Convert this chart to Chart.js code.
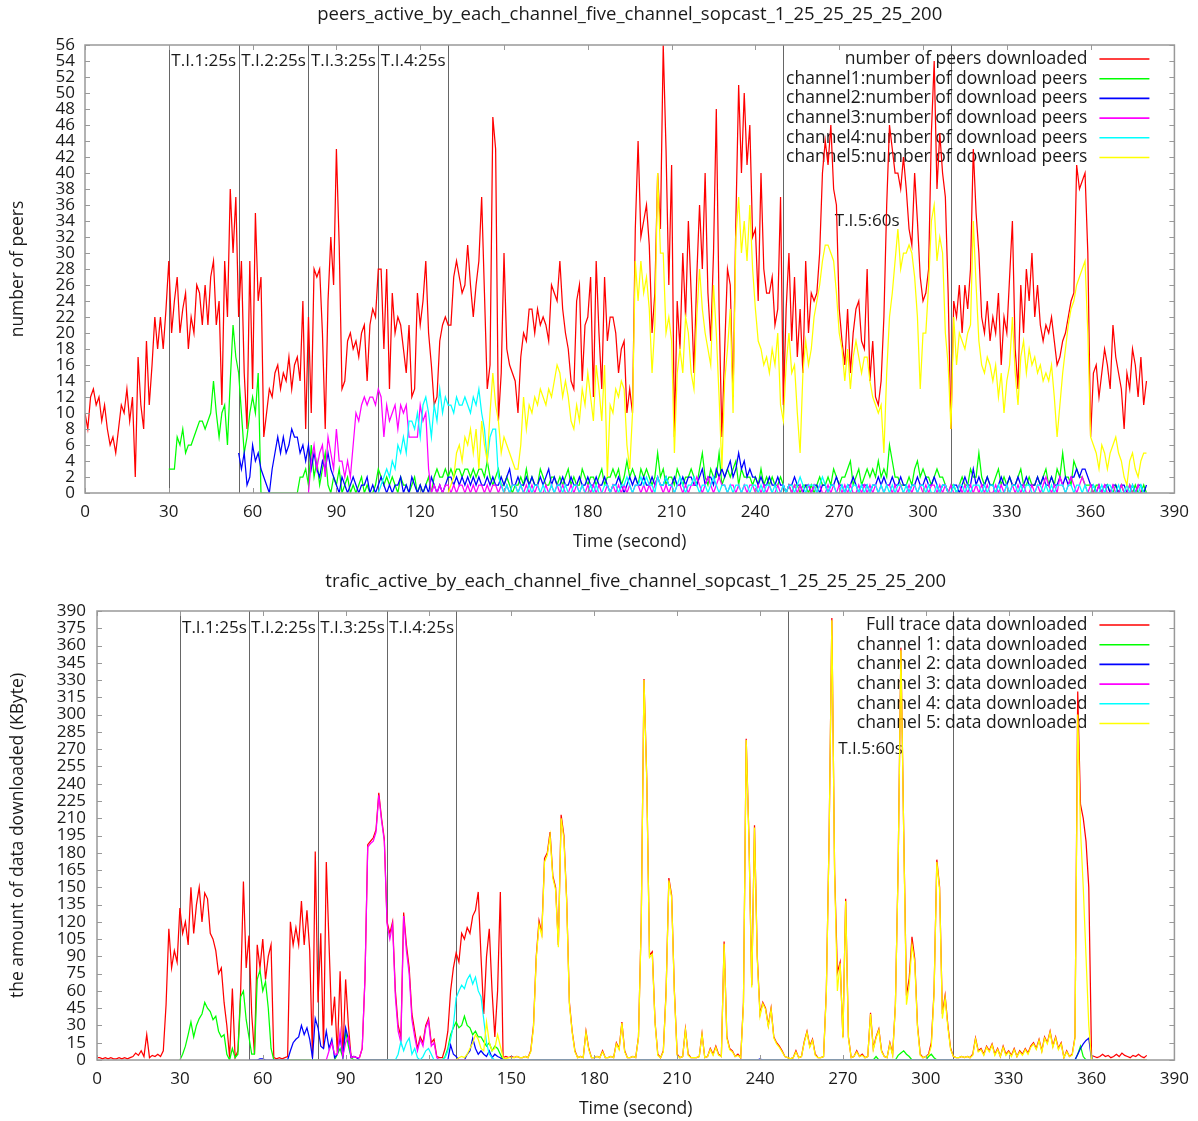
<!DOCTYPE html>
<html>
<head>
<meta charset="utf-8">
<title>sopcast five channel trace</title>
<script src="https://cdn.jsdelivr.net/npm/chart.js@4.4.1/dist/chart.umd.min.js"></script>
<style>
  body { margin: 0; background: #fff; }
  canvas { display: block; }
</style>
</head>
<body>
<canvas id="peers-chart" width="1198" height="560"></canvas>
<canvas id="traffic-chart" width="1198" height="561"></canvas>
<script>
const FONT = "'Open Sans', 'DejaVu Sans', sans-serif";
const TEXT = "#1a1a1a";
const COLORS = ["#ff0000", "#00ff00", "#0000ff", "#ff00ff", "#00ffff", "#ffff00"];

const timeTicks = [0, 30, 60, 90, 120, 150, 180, 210, 240, 270, 300, 330, 360, 390];
const peerTicks = [0, 2, 4, 6, 8, 10, 12, 14, 16, 18, 20, 22, 24, 26, 28, 30, 32, 34, 36, 38, 40, 42, 44, 46, 48, 50, 52, 54, 56];
const trafficTicks = [0, 15, 30, 45, 60, 75, 90, 105, 120, 135, 150, 165, 180, 195, 210, 225, 240, 255, 270, 285, 300, 315, 330, 345, 360, 375, 390];

// channel switching intervals
const intervalBounds = [30, 55, 80, 105, 130, 250, 310];
const intervalNames = ["T.I.1:25s", "T.I.2:25s", "T.I.3:25s", "T.I.4:25s", "T.I.5:60s"];
const intervalCenters = [42.5, 67.5, 92.5, 117.5, 280];
const peerLabelLevels = [54, 54, 54, 54, 34];
const trafficLabelLevels = [375, 375, 375, 375, 270];

const peerSeriesNames = [
  "number of peers downloaded",
  "channel1:number of download peers",
  "channel2:number of download peers",
  "channel3:number of download peers",
  "channel4:number of download peers",
  "channel5:number of download peers",
];
const trafficSeriesNames = [
  "Full trace data downloaded",
  "channel 1: data downloaded",
  "channel 2: data downloaded",
  "channel 3: data downloaded",
  "channel 4: data downloaded",
  "channel 5: data downloaded",
];

// one sample per second, each series starting at its own second
const seriesStart = [0, 30, 55, 80, 105, 130];

const peersTotal = [
  10, 8, 12, 13, 11, 12, 9, 11, 8, 6,
  7, 5, 8, 11, 10, 13, 9, 12, 2, 17,
  11, 8, 19, 11, 16, 22, 18, 22, 18, 23,
  29, 20, 24, 27, 20, 23, 25, 18, 22, 20,
  26, 25, 21, 26, 21, 27, 29, 21, 24, 11,
  29, 22, 38, 30, 37, 22, 29, 15, 8, 29,
  13, 35, 24, 27, 7, 10, 13, 12, 15, 16,
  13, 15, 14, 17, 13, 16, 17, 14, 24, 8,
  22, 10, 28, 27, 28, 20, 8, 24, 32, 26,
  43, 31, 13, 14, 19, 20, 18, 19, 17, 20,
  21, 14, 21, 23, 22, 28, 28, 18, 28, 13,
  25, 20, 22, 21, 18, 15, 21, 12, 13, 25,
  21, 24, 29, 20, 16, 11, 12, 19, 21, 22,
  21, 21, 27, 29, 27, 25, 26, 31, 26, 22,
  26, 29, 37, 25, 13, 16, 47, 43, 9, 15,
  30, 18, 16, 15, 14, 10, 17, 20, 19, 23,
  23, 20, 23, 21, 22, 21, 19, 26, 25, 24,
  29, 23, 20, 18, 14, 13, 24, 26, 14, 21,
  22, 27, 12, 29, 20, 13, 27, 19, 22, 22,
  20, 15, 18, 19, 10, 13, 10, 33, 44, 32,
  34, 36, 31, 20, 25, 40, 33, 56, 43, 26,
  41, 7, 24, 18, 30, 22, 34, 25, 15, 27,
  36, 28, 40, 25, 19, 30, 48, 23, 7, 18,
  28, 26, 12, 34, 51, 40, 50, 41, 46, 32,
  33, 24, 40, 28, 25, 25, 27, 21, 23, 37,
  11, 23, 30, 19, 27, 17, 23, 15, 29, 20,
  25, 24, 25, 30, 40, 44, 41, 46, 38, 36,
  23, 19, 16, 23, 15, 20, 23, 24, 19, 18,
  28, 14, 19, 12, 11, 14, 22, 36, 46, 43,
  40, 40, 38, 42, 38, 33, 31, 40, 34, 27,
  24, 25, 28, 45, 54, 38, 45, 40, 37, 25,
  8, 24, 22, 26, 20, 26, 23, 28, 43, 35,
  30, 22, 20, 24, 19, 22, 20, 25, 16, 22,
  20, 27, 34, 18, 13, 26, 20, 28, 24, 30,
  22, 26, 21, 19, 21, 20, 22, 19, 16, 17,
  19, 20, 22, 24, 25, 41, 38, 39, 40, 30,
  7, 15, 16, 12, 15, 18, 16, 13, 21, 17,
  15, 13, 8, 15, 13, 18, 16, 12, 17, 11, 14,
];

const peersCh1 = [
  3, 3, 3, 7, 6, 8, 5, 6, 6, 7,
  8, 9, 9, 8, 9, 10, 14, 10, 7, 10,
  11, 6, 14, 21, 17, 15, 10, 5, 7, 10,
  12, 10, 15, 0, 0, 0, 0, 0, 0, 0,
  0, 0, 0, 0, 0, 0, 0, 2, 2, 3,
  1, 6, 2, 4, 1, 3, 5, 1, 0, 2,
  1, 3, 0, 1, 2, 0, 1, 0, 1, 2,
  0, 1, 0, 0, 1, 3, 2, 1, 2, 1,
  2, 1, 0, 2, 1, 1, 0, 1, 2, 0,
  1, 0, 1, 2, 0, 2, 3, 2, 2, 3,
  2, 3, 2, 3, 3, 2, 3, 3, 2, 3,
  2, 3, 3, 2, 4, 2, 1, 2, 3, 1,
  1, 2, 1, 0, 1, 1, 2, 1, 3, 1,
  2, 1, 1, 3, 2, 1, 1, 2, 2, 1,
  2, 1, 2, 3, 1, 2, 1, 1, 3, 2,
  1, 2, 2, 1, 2, 3, 1, 2, 2, 3,
  2, 3, 1, 2, 4, 2, 3, 2, 1, 3,
  2, 3, 2, 1, 2, 5, 2, 3, 1, 2,
  2, 1, 3, 2, 1, 2, 2, 3, 2, 1,
  3, 5, 2, 1, 3, 2, 2, 5, 1, 2,
  3, 2, 3, 4, 1, 3, 2, 2, 2, 1,
  2, 1, 3, 1, 2, 1, 2, 1, 1, 2,
  1, 0, 1, 0, 1, 1, 0, 1, 1, 0,
  1, 0, 1, 2, 1, 1, 2, 1, 3, 2,
  1, 2, 2, 3, 4, 1, 2, 3, 1, 2,
  3, 2, 3, 2, 4, 2, 3, 2, 6, 4,
  2, 2, 1, 1, 1, 2, 1, 3, 4, 2,
  3, 2, 2, 1, 2, 3, 2, 2, 1, 0,
  1, 1, 0, 1, 2, 1, 1, 3, 2, 2,
  5, 2, 1, 2, 1, 1, 2, 3, 1, 2,
  1, 2, 1, 1, 2, 3, 1, 1, 2, 1,
  1, 2, 1, 2, 3, 1, 2, 1, 3, 2,
  5, 2, 2, 1, 4, 3, 2, 2, 1, 1,
  1, 0, 1, 1, 0, 0, 1, 0, 0, 1,
  0, 1, 0, 0, 1, 0, 1, 0, 0, 1, 0,
];

const peersCh2 = [
  5, 3, 5, 1, 2,
  6, 4, 5, 3, 2, 1, 0, 3, 5, 7,
  5, 7, 5, 6, 8, 7, 7, 5, 6, 4,
  6, 3, 5, 3, 2, 4, 3, 5, 3, 2,
  1, 0, 2, 1, 0, 1, 2, 1, 0, 1,
  1, 2, 0, 1, 0, 1, 2, 1, 0, 1,
  0, 1, 1, 2, 0, 1, 0, 2, 1, 0,
  1, 0, 1, 0, 2, 1, 0, 1, 0, 1,
  2, 2, 1, 2, 1, 2, 1, 2, 1, 2,
  1, 2, 1, 1, 2, 1, 2, 1, 1, 2,
  1, 2, 3, 1, 1, 2, 1, 1, 2, 1,
  2, 1, 1, 2, 1, 2, 3, 1, 2, 1,
  1, 2, 1, 1, 2, 1, 1, 2, 1, 1,
  2, 1, 1, 2, 1, 1, 2, 1, 0, 1,
  1, 2, 1, 0, 1, 2, 1, 2, 1, 1,
  2, 1, 1, 2, 1, 2, 1, 1, 2, 1,
  1, 2, 1, 1, 2, 1, 2, 2, 1, 1,
  2, 3, 1, 2, 2, 1, 3, 2, 3, 2,
  3, 4, 2, 3, 5, 3, 4, 2, 3, 2,
  2, 1, 2, 1, 1, 2, 1, 1, 2, 1,
  1, 0, 1, 1, 2, 1, 1, 0, 1, 1,
  0, 1, 1, 0, 1, 1, 0, 1, 1, 2,
  1, 1, 0, 1, 1, 2, 1, 0, 1, 1,
  1, 0, 1, 1, 2, 1, 2, 1, 1, 2,
  1, 1, 2, 1, 1, 0, 1, 1, 2, 1,
  1, 2, 1, 1, 2, 1, 0, 1, 1, 0,
  0, 1, 1, 0, 1, 2, 1, 1, 3, 1,
  2, 1, 1, 2, 1, 1, 0, 1, 2, 1,
  1, 2, 1, 1, 2, 1, 1, 2, 1, 1,
  1, 2, 1, 2, 1, 1, 2, 1, 1, 2,
  1, 2, 1, 2, 2, 3, 2, 3, 3, 2,
  1, 1, 0, 1, 0, 1, 1, 0, 1, 1,
  0, 1, 1, 0, 0, 1, 0, 1, 1, 0, 1,
];

const peersCh3 = [
  0, 4, 6, 3, 5, 6, 2, 7, 5, 3,
  8, 4, 4, 2, 4, 2, 6, 10, 9, 11,
  12, 11, 12, 12, 11, 13, 12, 7, 11, 9,
  10, 11, 8, 11, 10, 11, 7, 7, 7, 7,
  11, 9, 10, 3, 0, 1, 0, 1, 0, 1,
  1, 0, 1, 0, 1, 1, 0, 1, 0, 1,
  0, 1, 1, 0, 1, 0, 1, 1, 0, 1,
  0, 1, 0, 1, 1, 0, 1, 0, 1, 0,
  1, 0, 1, 0, 0, 1, 0, 1, 0, 1,
  0, 1, 0, 0, 1, 0, 1, 0, 1, 0,
  1, 0, 1, 0, 1, 0, 0, 1, 0, 1,
  0, 1, 0, 1, 0, 1, 0, 1, 1, 0,
  1, 0, 1, 0, 1, 2, 1, 0, 1, 0,
  1, 0, 1, 1, 0, 1, 0, 1, 1, 2,
  1, 0, 1, 2, 1, 0, 1, 2, 1, 1,
  0, 1, 1, 0, 1, 0, 1, 0, 1, 1,
  0, 1, 0, 1, 0, 1, 0, 0, 1, 0,
  1, 0, 1, 0, 1, 0, 1, 0, 0, 1,
  0, 1, 0, 1, 0, 0, 1, 0, 1, 0,
  1, 0, 1, 0, 1, 0, 0, 1, 0, 1,
  0, 1, 0, 1, 0, 1, 0, 1, 1, 0,
  1, 0, 1, 0, 0, 1, 0, 1, 0, 1,
  0, 1, 0, 1, 1, 0, 1, 0, 1, 0,
  1, 0, 0, 1, 0, 1, 0, 1, 0, 1,
  0, 1, 0, 1, 0, 0, 1, 0, 1, 0,
  1, 0, 1, 0, 1, 0, 1, 0, 0, 1,
  0, 1, 0, 1, 2, 1, 0, 1, 0, 2,
  1, 0, 1, 2, 1, 0, 1, 2, 1, 0,
  1, 0, 0, 1, 0, 1, 0, 0, 1, 0,
  0, 1, 0, 0, 1, 0, 0, 1, 0, 0, 0,
];

const peersCh4 = [
  0, 1, 2, 3, 2,
  4, 3, 6, 5, 7, 5, 9, 9, 8, 10,
  7, 11, 12, 10, 7, 11, 9, 13, 10, 12,
  11, 11, 10, 12, 11, 11, 12, 11, 10, 12,
  11, 13, 10, 8, 4, 7, 8, 8, 2, 1,
  0, 1, 0, 1, 1, 0, 1, 0, 0, 1,
  0, 1, 1, 0, 1, 0, 0, 1, 0, 1,
  1, 0, 1, 0, 0, 1, 1, 0, 1, 0,
  0, 1, 0, 1, 0, 0, 1, 1, 0, 1,
  1, 0, 1, 1, 2, 1, 0, 1, 1, 2,
  1, 2, 1, 1, 0, 2, 1, 1, 2, 1,
  1, 0, 1, 2, 1, 0, 1, 1, 2, 1,
  0, 1, 1, 0, 1, 2, 1, 0, 1, 1,
  0, 1, 0, 1, 1, 0, 1, 1, 0, 1,
  1, 0, 1, 0, 1, 1, 0, 1, 0, 0,
  1, 0, 1, 1, 0, 1, 2, 1, 0, 1,
  1, 1, 0, 1, 2, 1, 0, 1, 1, 0,
  0, 1, 0, 1, 0, 1, 1, 0, 1, 0,
  1, 0, 1, 1, 0, 1, 0, 1, 0, 1,
  0, 1, 1, 0, 1, 0, 1, 1, 0, 1,
  1, 0, 1, 0, 0, 1, 0, 1, 1, 0,
  0, 1, 0, 1, 1, 0, 1, 0, 1, 1,
  1, 0, 1, 0, 1, 1, 0, 1, 0, 0,
  1, 0, 1, 1, 0, 1, 0, 1, 1, 0,
  0, 1, 1, 0, 1, 0, 1, 0, 1, 1,
  1, 0, 1, 1, 0, 1, 1, 0, 1, 0,
  0, 1, 0, 0, 1, 0, 1, 1, 0, 0,
  1, 0, 0, 1, 0, 1, 0, 0, 1, 0, 0,
];

const peersCh5 = [
  0, 1, 2, 5, 6, 4, 7, 6, 8, 5,
  8, 3, 9, 6, 4, 10, 15, 11, 9, 5,
  7, 6, 5, 4, 3, 3, 6, 12, 8, 11,
  10, 12, 11, 13, 12, 11, 13, 12, 14, 16,
  15, 12, 14, 12, 9, 8, 11, 9, 13, 11,
  15, 12, 9, 16, 13, 9, 16, 2, 11, 10,
  13, 12, 14, 13, 6, 3, 10, 29, 24, 29,
  25, 27, 23, 15, 21, 40, 30, 30, 20, 22,
  19, 5, 15, 18, 15, 22, 20, 15, 13, 22,
  28, 23, 20, 18, 16, 26, 20, 12, 3, 14,
  18, 23, 10, 32, 37, 30, 34, 29, 36, 28,
  23, 19, 18, 16, 17, 15, 18, 16, 20, 11,
  9, 16, 20, 15, 16, 10, 5, 15, 19, 16,
  18, 22, 24, 26, 29, 31, 31, 30, 29, 25,
  20, 18, 14, 18, 13, 17, 19, 17, 15, 17,
  17, 14, 12, 11, 10, 11, 5, 15, 22, 25,
  29, 33, 28, 30, 30, 31, 30, 27, 22, 13,
  20, 20, 26, 34, 36, 29, 32, 30, 20, 16,
  8, 22, 16, 20, 19, 18, 20, 21, 34, 26,
  19, 16, 15, 17, 16, 14, 16, 12, 15, 10,
  14, 16, 22, 15, 11, 17, 19, 15, 18, 16,
  17, 15, 16, 14, 15, 14, 16, 12, 7, 11,
  15, 18, 21, 23, 24, 26, 27, 28, 29, 20,
  7, 6, 5, 3, 6, 5, 3, 5, 6, 7,
  5, 4, 2, 1, 4, 5, 3, 2, 4, 5, 5,
];

const trafficTotal = [
  2, 2, 1, 2, 1, 2, 1, 1, 2, 1,
  2, 1, 2, 3, 6, 4, 8, 3, 22, 2,
  4, 3, 5, 3, 8, 48, 114, 80, 95, 85,
  132, 110, 120, 100, 150, 110, 135, 150, 120, 145,
  140, 110, 105, 95, 75, 80, 50, 30, 2, 62,
  2, 8, 60, 155, 80, 108, 40, 5, 100, 80,
  105, 70, 90, 100, 2, 1, 2, 1, 2, 3,
  120, 100, 115, 100, 138, 100, 130, 95, 2, 181,
  50, 110, 10, 172, 100, 30, 55, 5, 77, 3,
  70, 30, 2, 3, 2, 2, 10, 71, 187, 190,
  193, 200, 232, 210, 192, 120, 110, 120, 60, 30,
  20, 128, 100, 80, 40, 25, 10, 20, 15, 30,
  36, 15, 18, 3, 2, 2, 10, 25, 60, 80,
  93, 85, 110, 105, 115, 110, 125, 130, 146, 90,
  40, 90, 114, 60, 20, 60, 146, 2, 3, 2,
  3, 2, 3, 2, 2, 3, 2, 8, 30, 90,
  121, 110, 175, 180, 198, 160, 150, 100, 213, 195,
  140, 50, 25, 8, 2, 3, 2, 25, 10, 2,
  2, 3, 2, 8, 2, 2, 3, 2, 15, 10,
  33, 8, 2, 2, 3, 2, 20, 120, 331, 245,
  91, 94, 33, 5, 2, 8, 60, 158, 143, 60,
  5, 2, 3, 27, 5, 2, 2, 2, 3, 23,
  2, 3, 10, 5, 12, 5, 3, 103, 20, 10,
  8, 3, 5, 2, 50, 279, 192, 65, 204, 90,
  40, 50, 45, 30, 45, 20, 15, 12, 8, 3,
  2, 1, 2, 8, 2, 3, 16, 25, 12, 18,
  5, 2, 2, 3, 60, 193, 384, 164, 76, 85,
  20, 140, 20, 2, 3, 8, 3, 5, 2, 3,
  41, 10, 20, 27, 8, 3, 2, 15, 5, 48,
  169, 358, 200, 56, 71, 107, 88, 30, 5, 2,
  3, 5, 15, 60, 174, 150, 40, 56, 30, 10,
  3, 2, 2, 3, 2, 3, 2, 5, 19, 8,
  10, 5, 12, 8, 14, 5, 10, 3, 12, 5,
  8, 4, 10, 3, 8, 5, 10, 6, 12, 15,
  10, 18, 8, 20, 15, 25, 12, 20, 10, 15,
  2, 8, 3, 5, 20, 320, 222, 210, 190, 150,
  4, 3, 2, 3, 5, 3, 4, 2, 3, 5,
  3, 6, 4, 3, 2, 4, 3, 5, 3, 2, 4,
];

const trafficCh1 = [
  0, 5, 12, 22, 33, 20, 30, 36, 40, 50,
  45, 42, 35, 38, 25, 20, 22, 5, 0, 10,
  2, 5, 55, 60, 35, 20, 5, 5, 70, 78,
  60, 68, 45, 10, 0, 0, 0, 0, 0, 0,
  0, 0, 0, 0, 0, 0, 0, 0, 0, 0,
  0, 0, 0, 0, 0, 0, 0, 5, 10, 2,
  25, 12, 2, 0, 0, 0, 0, 0, 0, 0,
  0, 0, 0, 0, 0, 0, 0, 0, 0, 0, 0, 0, 0, 0, 0, 0, 0, 0, 0, 0,
  0, 0, 0, 0, 0, 0, 3, 10, 22, 28,
  33, 28, 30, 38, 30, 28, 22, 25, 20, 20,
  16, 12, 15, 8, 12, 10, 5, 0, 0, 0,
  0, 0, 0, 0, 0, 0, 0, 0, 0, 0, 0, 0, 0, 0, 0, 0, 0, 0, 0, 0,
  0, 0, 0, 0, 0, 0, 0, 0, 0, 0, 0, 0, 0, 0, 0, 0, 0, 0, 0, 0,
  0, 0, 0, 0, 0, 0, 0, 0, 0, 0, 0, 0, 0, 0, 0, 0, 0, 0, 0, 0,
  0, 0, 0, 0, 0, 0, 0, 0, 0, 0, 0, 0, 0, 0, 0, 0, 0, 0, 0, 0,
  0, 0, 0, 0, 0, 0, 0, 0, 0, 0, 0, 0, 0, 0, 0, 0, 0, 0, 0, 0,
  0, 0, 0, 0, 0, 0, 0, 0, 0, 0, 0, 0, 0, 0, 0, 0, 0, 0, 0, 0,
  0, 0, 0, 0, 0, 0, 0, 0, 0, 0,
  0, 0, 3, 0, 0, 0, 0, 0, 0, 0,
  4, 6, 8, 5, 3, 0, 0, 0, 0, 0,
  0, 3, 5, 2, 0, 0, 0, 0, 0, 0,
  0, 0, 0, 0, 0, 0, 0, 0, 0, 0, 0, 0, 0, 0, 0, 0, 0, 0, 0, 0,
  0, 0, 0, 0, 0, 0, 0, 0, 0, 0, 0, 0, 0, 0, 0, 0, 0, 0, 0, 0,
  0, 0, 0, 0, 0, 5, 12, 3, 0, 0,
  0, 0, 0, 0, 0, 0, 0, 0, 0, 0, 0, 0, 0, 0, 0, 0, 0, 0, 0, 0, 0,
];

const trafficCh2 = [
  0, 0, 0, 0, 1,
  1, 0, 0, 0, 0, 0, 0, 0, 0, 0,
  8, 15, 18, 20, 30, 22, 28, 18, 2, 36,
  28, 12, 10, 25, 10, 18, 2, 5, 20, 3,
  28, 18, 2, 3, 2, 0, 0, 0, 0, 0,
  0, 0, 0, 0, 0, 0, 0, 0, 0, 0, 0, 0, 0, 0, 0, 0, 0, 0, 0, 0,
  0, 0, 0, 0, 0, 0, 0, 0, 13, 5,
  3, 0, 0, 0, 5, 8, 19, 10, 5, 8,
  5, 3, 8, 2, 5, 3, 2, 0, 0, 0,
  0, 0, 0, 0, 0, 0, 0, 0, 0, 0, 0, 0, 0, 0, 0, 0, 0, 0, 0, 0,
  0, 0, 0, 0, 0, 0, 0, 0, 0, 0, 0, 0, 0, 0, 0, 0, 0, 0, 0, 0,
  0, 0, 0, 0, 0, 0, 0, 0, 0, 0, 0, 0, 0, 0, 0, 0, 0, 0, 0, 0,
  0, 0, 0, 0, 0, 0, 0, 0, 0, 0, 0, 0, 0, 0, 0, 0, 0, 0, 0, 0,
  0, 0, 0, 0, 0, 0, 0, 0, 0, 0,
  1, 0, 0, 0, 0, 0, 0, 0, 0, 0,
  0, 0, 0, 0, 0, 0, 0, 0, 0, 0, 0, 0, 0, 0, 0, 0, 0, 0, 0, 0,
  0, 0, 0, 0, 0, 0, 0, 0, 0, 0, 0, 0, 0, 0, 0, 0, 0, 0, 0, 0,
  0, 0, 0, 0, 0, 0, 0, 0, 0, 0, 0, 0, 0, 0, 0, 0, 0, 0, 0, 0,
  0, 0, 0, 0, 0, 0, 0, 0, 0, 0, 0, 0, 0, 0, 0, 0, 0, 0, 0, 0,
  0, 0, 0, 0, 0, 0, 0, 0, 0, 0, 0, 0, 0, 0, 0, 0, 0, 0, 0, 0,
  0, 0, 0, 0, 0, 5, 10, 14, 17, 19,
  0, 0, 0, 0, 0, 0, 0, 0, 0, 0, 0, 0, 0, 0, 0, 0, 0, 0, 0, 0, 0,
];

const trafficCh3 = [
  0, 0, 0, 0, 8, 15, 5, 5, 25, 3,
  15, 20, 2, 3, 2, 2, 10, 71, 185, 188,
  190, 198, 230, 208, 190, 118, 105, 118, 55, 25,
  15, 125, 95, 75, 35, 20, 8, 18, 12, 28,
  34, 12, 15, 2, 0, 0, 0, 0, 0, 0,
  0, 0, 0, 0, 0, 0, 0, 0, 0, 0, 0, 0, 0, 0, 0, 0, 0, 0, 0, 0,
  0, 0, 0, 0, 0, 0, 0, 0, 0, 0, 0, 0, 0, 0, 0, 0, 0, 0, 0, 0,
  0, 0, 0, 0, 0, 0, 0, 0, 0, 0, 0, 0, 0, 0, 0, 0, 0, 0, 0, 0,
  0, 0, 0, 0, 0, 0, 0, 0, 0, 0, 0, 0, 0, 0, 0, 0, 0, 0, 0, 0,
  0, 0, 0, 0, 0, 0, 0, 0, 0, 0, 0, 0, 0, 0, 0, 0, 0, 0, 0, 0,
  0, 0, 0, 0, 0, 0, 0, 0, 0, 0, 0, 0, 0, 0, 0, 0, 0, 0, 0, 0,
  0, 0, 0, 0, 0, 0, 0, 0, 0, 0, 0, 0, 0, 0, 0, 0, 0, 0, 0, 0,
  0, 0, 0, 0, 0, 0, 0, 0, 0, 0, 0, 0, 0, 0, 0, 0, 0, 0, 0, 0,
  0, 0, 0, 0, 0, 0, 0, 0, 0, 0, 0, 0, 0, 0, 0, 0, 0, 0, 0, 0,
  0, 0, 0, 0, 0, 0, 0, 0, 0, 0, 0, 0, 0, 0, 0, 0, 0, 0, 0, 0,
  0, 0, 0, 0, 0, 0, 0, 0, 0, 0, 0, 0, 0, 0, 0, 0, 0, 0, 0, 0,
  0, 0, 0, 0, 0, 0, 0, 0, 0, 0, 0, 0, 0, 0, 0, 0, 0, 0, 0, 0, 0,
];

const trafficCh4 = [
  0, 0, 0, 0, 5,
  16, 8, 15, 19, 5, 10, 2, 0, 3, 8,
  10, 5, 0, 0, 0, 0, 2, 8, 18, 30,
  54, 60, 65, 62, 70, 74, 66, 72, 60, 55,
  35, 15, 5, 2, 0, 0, 0, 0, 0, 0,
  0, 0, 0, 0, 0, 0, 0, 0, 0, 0, 0, 0, 0, 0, 0, 0, 0, 0, 0, 0,
  0, 0, 0, 0, 0, 0, 0, 0, 0, 0, 0, 0, 0, 0, 0, 0, 0, 0, 0, 0,
  0, 0, 0, 0, 0, 0, 0, 0, 0, 0, 0, 0, 0, 0, 0, 0, 0, 0, 0, 0,
  0, 0, 0, 0, 0, 0, 0, 0, 0, 0, 0, 0, 0, 0, 0, 0, 0, 0, 0, 0,
  0, 0, 0, 0, 0, 0, 0, 0, 0, 0, 0, 0, 0, 0, 0, 0, 0, 0, 0, 0,
  0, 0, 0, 0, 0, 0, 0, 0, 0, 0, 0, 0, 0, 0, 0, 0, 0, 0, 0, 0,
  0, 0, 0, 0, 0, 0, 0, 0, 0, 0, 0, 0, 0, 0, 0, 0, 0, 0, 0, 0,
  0, 0, 0, 0, 0, 0, 0, 0, 0, 0, 0, 0, 0, 0, 0, 0, 0, 0, 0, 0,
  0, 0, 0, 0, 0, 0, 0, 0, 0, 0, 0, 0, 0, 0, 0, 0, 0, 0, 0, 0,
  0, 0, 0, 0, 0, 0, 0, 0, 0, 0, 0, 0, 0, 0, 0, 0, 0, 0, 0, 0,
  0, 0, 0, 0, 0, 0, 0, 0, 0, 0, 0, 0, 0, 0, 0, 0, 0, 0, 0, 0, 0,
];

const trafficCh5 = [
  0, 2, 3, 2, 5, 10, 15, 22, 18, 10,
  8, 33, 15, 8, 10, 22, 12, 2, 1, 2,
  2, 2, 3, 2, 2, 3, 2, 7, 28, 88,
  118, 108, 172, 178, 195, 158, 148, 98, 210, 192,
  138, 48, 24, 7, 2, 3, 2, 24, 9, 2,
  2, 3, 2, 7, 2, 2, 3, 2, 14, 9,
  32, 7, 2, 2, 3, 2, 19, 118, 330, 243,
  89, 92, 32, 4, 2, 7, 58, 156, 141, 58,
  4, 2, 3, 26, 4, 2, 2, 2, 3, 22,
  2, 3, 9, 4, 11, 4, 3, 101, 19, 9,
  7, 3, 4, 2, 48, 278, 190, 63, 202, 88,
  38, 49, 44, 29, 44, 19, 14, 11, 7, 3,
  2, 1, 2, 7, 2, 3, 15, 24, 11, 17,
  4, 2, 2, 3, 58, 191, 382, 162, 60, 84,
  19, 138, 19, 2, 3, 7, 3, 4, 2, 3,
  40, 9, 19, 26, 7, 3, 2, 14, 4, 47,
  167, 356, 198, 48, 65, 100, 85, 28, 4, 2,
  3, 4, 12, 58, 172, 148, 36, 54, 28, 9,
  3, 2, 2, 3, 2, 3, 2, 4, 18, 7,
  9, 4, 11, 7, 13, 4, 9, 3, 11, 4,
  7, 3, 9, 3, 7, 4, 9, 5, 11, 14,
  9, 17, 7, 19, 14, 24, 11, 19, 9, 14,
  2, 7, 3, 4, 19, 300, 200, 150, 90, 30,
  0, 0, 0, 0, 0, 0, 0, 0, 0, 0,
  0, 0, 0, 0, 0, 0, 0, 0, 0, 0, 0,
];

function toPoints(start, values) {
  return values.map((v, i) => ({ x: start + i, y: v }));
}

// gnuplot-like decorations: title, switching lines, key, border and inward tics
const gnuplotFrame = {
  id: "gnuplotFrame",
  beforeDatasetsDraw(chart, args, opts) {
    const { ctx, chartArea: area, scales: { x, y } } = chart;
    ctx.save();
    ctx.fillStyle = TEXT;
    ctx.textBaseline = "middle";
    ctx.textAlign = "center";
    ctx.font = `18.5px ${FONT}`;
    ctx.fillText(opts.title, (area.left + area.right) / 2, opts.titleY);

    ctx.strokeStyle = "#666";
    ctx.lineWidth = 1;
    intervalBounds.forEach((t) => {
      const px = Math.round(x.getPixelForValue(t)) + 0.5;
      ctx.beginPath();
      ctx.moveTo(px, area.top);
      ctx.lineTo(px, area.bottom);
      ctx.stroke();
    });
    ctx.font = `17px ${FONT}`;
    intervalNames.forEach((name, i) => {
      ctx.fillText(name, x.getPixelForValue(intervalCenters[i]), y.getPixelForValue(opts.labelLevels[i]));
    });

    ctx.textAlign = "right";
    ctx.font = `17.5px ${FONT}`;
    ctx.lineWidth = 1.6;
    opts.names.forEach((name, i) => {
      const rowY = area.top + 14 + i * 19.7;
      ctx.fillText(name, area.right - 87, rowY);
      ctx.strokeStyle = COLORS[i];
      ctx.beginPath();
      ctx.moveTo(area.right - 75, rowY);
      ctx.lineTo(area.right - 25, rowY);
      ctx.stroke();
    });
    ctx.restore();
  },
  afterDatasetsDraw(chart) {
    const { ctx, chartArea: area, scales: { x, y } } = chart;
    ctx.save();
    ctx.strokeStyle = "#999";
    ctx.lineWidth = 1;
    ctx.beginPath();
    x.ticks.forEach((t) => {
      const px = Math.round(x.getPixelForValue(t.value)) + 0.5;
      ctx.moveTo(px, area.bottom);
      ctx.lineTo(px, area.bottom - 5);
      ctx.moveTo(px, area.top);
      ctx.lineTo(px, area.top + 5);
    });
    y.ticks.forEach((t) => {
      const py = Math.round(y.getPixelForValue(t.value)) + 0.5;
      ctx.moveTo(area.left, py);
      ctx.lineTo(area.left + 5, py);
      ctx.moveTo(area.right, py);
      ctx.lineTo(area.right - 5, py);
    });
    ctx.stroke();
    ctx.lineWidth = 1.5;
    ctx.strokeRect(area.left, area.top, area.right - area.left, area.bottom - area.top);
    ctx.restore();
  },
};

function makeChart(canvasId, cfg) {
  const canvas = document.getElementById(canvasId);
  const { box } = cfg;
  const datasets = cfg.series.map((values, i) => ({
    label: cfg.names[i],
    data: toPoints(seriesStart[i], values),
    borderColor: COLORS[i],
    borderWidth: 1.25,
    pointRadius: 0,
    tension: 0,
    fill: false,
    order: cfg.series.length - i,
  }));
  const tickFont = { family: FONT, size: 17 };
  const titleFont = { family: FONT, size: 17.5 };
  return new Chart(canvas, {
    type: "line",
    data: { datasets },
    options: {
      responsive: false,
      animation: false,
      devicePixelRatio: 1,
      events: [],
      parsing: false,
      layout: { padding: { top: box.top, right: canvas.width - box.right, left: 0, bottom: 0 } },
      plugins: {
        legend: { display: false },
        tooltip: { enabled: false },
        gnuplotFrame: { title: cfg.title, titleY: cfg.titleY, names: cfg.names, labelLevels: cfg.labelLevels },
      },
      scales: {
        x: {
          type: "linear",
          min: 0,
          max: 390,
          afterBuildTicks: (s) => { s.ticks = timeTicks.map((v) => ({ value: v })); },
          afterFit: (s) => { s.height = canvas.height - box.bottom; },
          grid: { display: false, drawTicks: false },
          border: { display: false },
          ticks: { autoSkip: false, maxRotation: 0, padding: 9, color: TEXT, font: tickFont },
          title: { display: true, text: "Time (second)", color: TEXT, font: titleFont, padding: { top: 0, bottom: cfg.xTitlePad } },
        },
        y: {
          type: "linear",
          min: 0,
          max: cfg.yTicks[cfg.yTicks.length - 1],
          afterBuildTicks: (s) => { s.ticks = cfg.yTicks.map((v) => ({ value: v })); },
          afterFit: (s) => { s.width = box.left; },
          grid: { display: false, drawTicks: false },
          border: { display: false },
          ticks: { autoSkip: false, padding: cfg.yTickPad, color: TEXT, font: tickFont },
          title: { display: true, text: cfg.yTitle, color: TEXT, font: titleFont, padding: { top: 8, bottom: 0 } },
        },
      },
    },
    plugins: [gnuplotFrame],
  });
}

makeChart("peers-chart", {
  title: "peers_active_by_each_channel_five_channel_sopcast_1_25_25_25_25_200",
  titleY: 15,
  yTitle: "number of peers",
  yTicks: peerTicks,
  yTickPad: 10,
  xTitlePad: 7,
  box: { left: 85, right: 1175, top: 45, bottom: 493 },
  names: peerSeriesNames,
  labelLevels: peerLabelLevels,
  series: [peersTotal, peersCh1, peersCh2, peersCh3, peersCh4, peersCh5],
});

makeChart("traffic-chart", {
  title: "trafic_active_by_each_channel_five_channel_sopcast_1_25_25_25_25_200",
  titleY: 22,
  yTitle: "the amount of data downloaded (KByte)",
  yTicks: trafficTicks,
  yTickPad: 11,
  xTitlePad: 1,
  box: { left: 97, right: 1177, top: 51, bottom: 500 },
  names: trafficSeriesNames,
  labelLevels: trafficLabelLevels,
  series: [trafficTotal, trafficCh1, trafficCh2, trafficCh3, trafficCh4, trafficCh5],
});
</script>
</body>
</html>
